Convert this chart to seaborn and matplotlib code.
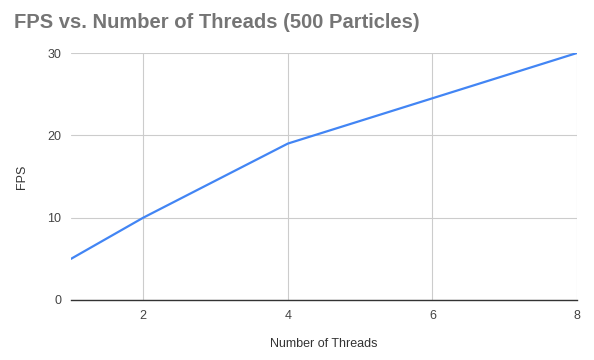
import matplotlib
matplotlib.use("Agg")
import matplotlib.pyplot as plt
import pandas as pd
import seaborn as sns

threads = [1, 2, 4, 8]
fps = [5, 10, 19, 30]
x_ticks = [2, 4, 6, 8]
y_ticks = [0, 10, 20, 30]

sns.set_style("white")
plt.rcParams["font.family"] = ["Liberation Sans", "DejaVu Sans"]

df = pd.DataFrame({"Number of Threads": threads, "FPS": fps})

fig = plt.figure(figsize=(5.94, 3.6), dpi=100)
ax = fig.add_axes([71 / 594, 60 / 360, 506 / 594, 247 / 360])

sns.lineplot(data=df, x="Number of Threads", y="FPS", ax=ax, color="#4285F4", linewidth=1.6)

ax.set_xlim(1, 8)
ax.set_ylim(0, 30)
ax.set_xticks(x_ticks)
ax.set_yticks(y_ticks)
ax.grid(True, color="#cccccc", linewidth=0.8)
ax.set_axisbelow(True)
for side in ["top", "right", "left"]:
    ax.spines[side].set_visible(False)
ax.spines["bottom"].set_color("#333333")
ax.spines["bottom"].set_linewidth(1.0)
ax.tick_params(axis="both", length=0, labelsize=9, labelcolor="#444444", pad=7)
ax.set_xlabel("Number of Threads", fontsize=9, color="#333333", labelpad=12)
ax.set_ylabel("FPS", fontsize=9, color="#333333", labelpad=14)

fig.text(14 / 594, 1 - 22 / 360, "FPS vs. Number of Threads (500 Particles)",
         fontsize=14.5, fontweight="bold", color="#757575", va="center", ha="left")

fig.savefig("out.png", dpi=100)
